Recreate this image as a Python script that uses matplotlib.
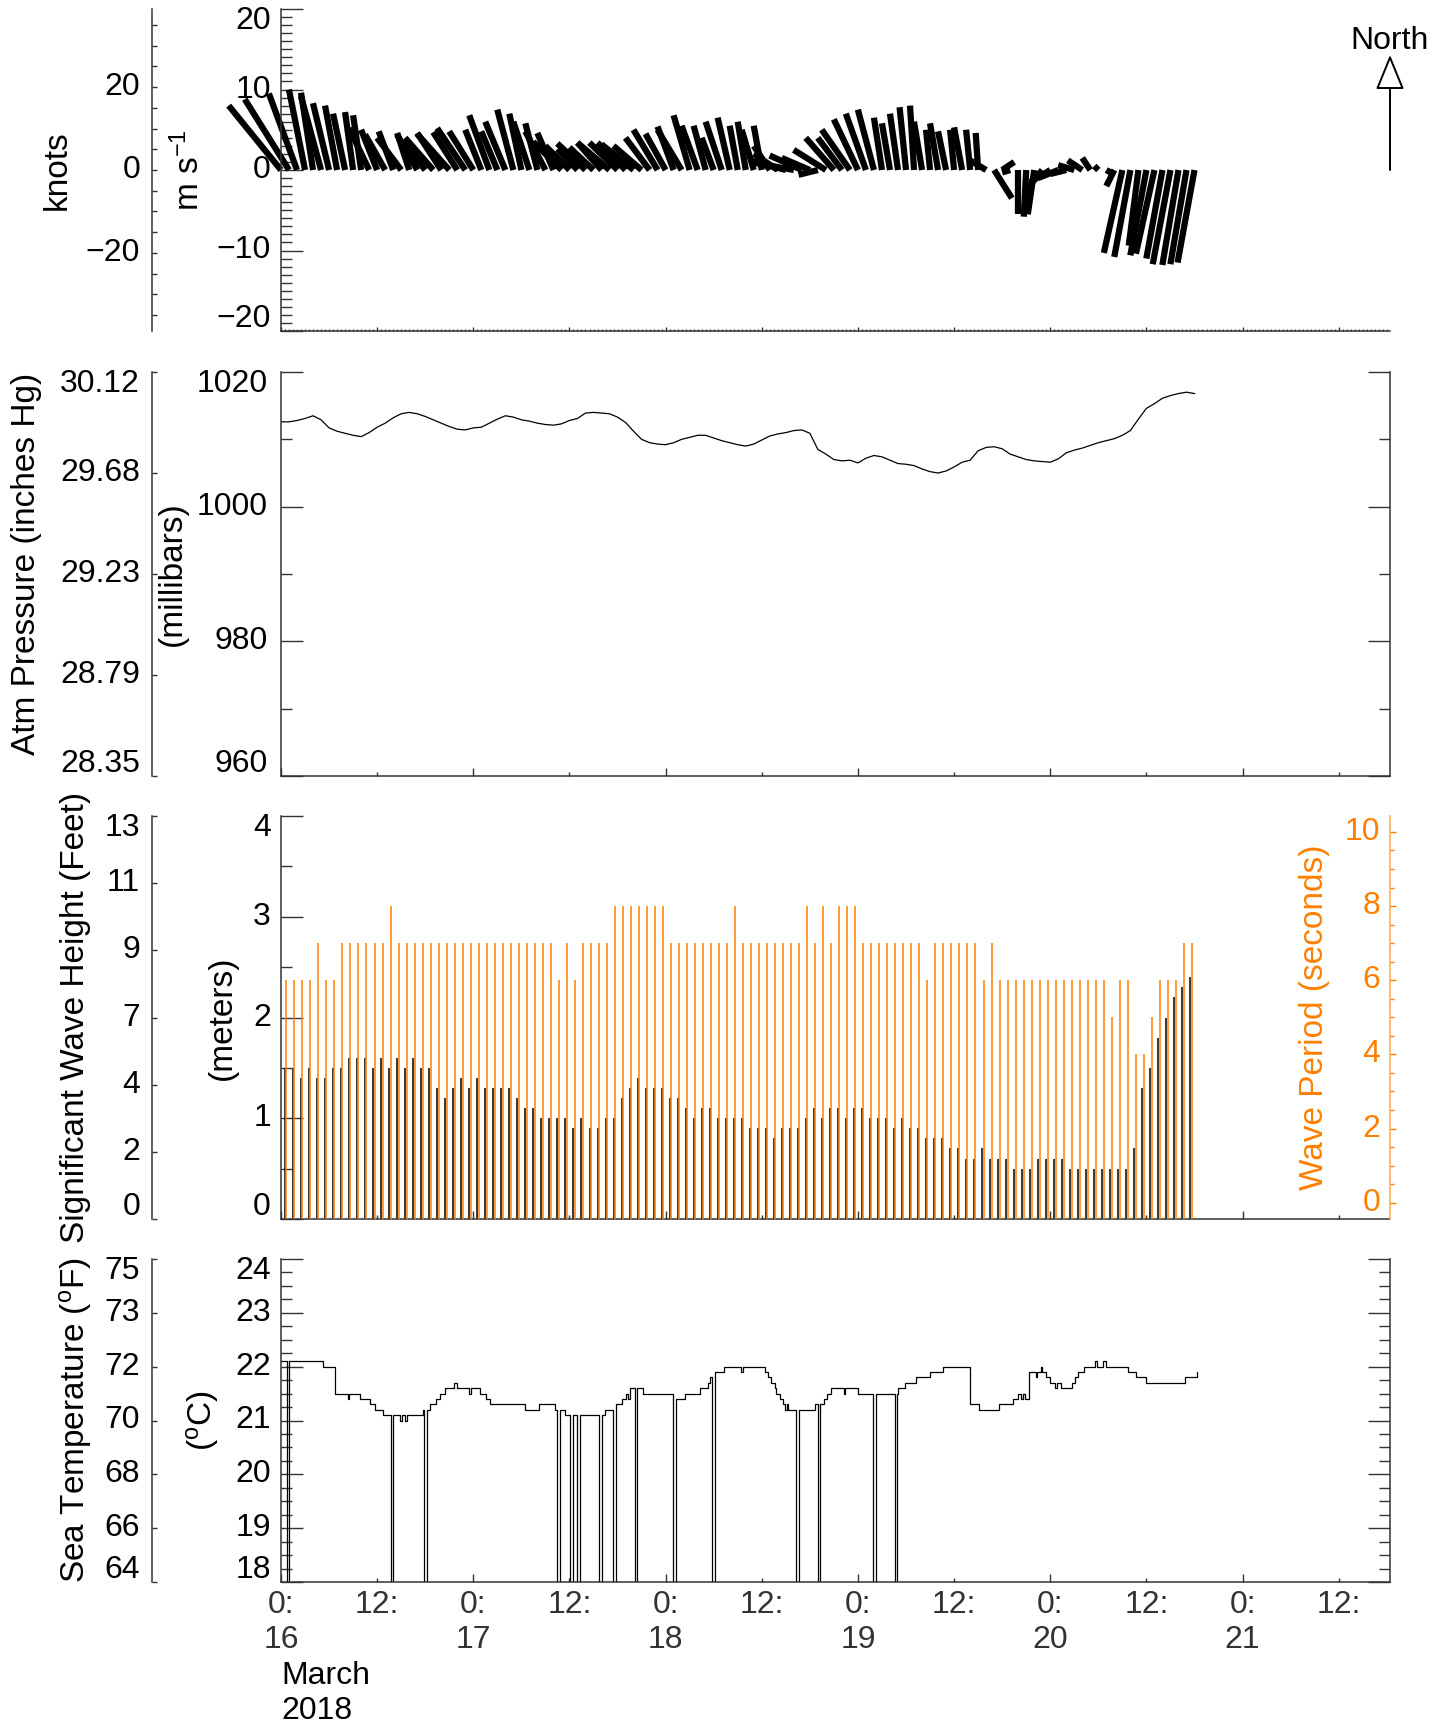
import numpy as np
import matplotlib
matplotlib.use("Agg")
import matplotlib.pyplot as plt
from matplotlib import transforms
from matplotlib.collections import LineCollection
from matplotlib.ticker import MultipleLocator, FixedLocator, FixedFormatter

plt.rcParams["font.family"] = ["Liberation Sans", "DejaVu Sans"]
plt.rcParams["mathtext.fontset"] = "custom"
plt.rcParams["mathtext.rm"] = "Liberation Sans"
plt.rcParams["mathtext.default"] = "regular"

# ---------------- data (hours since 16 March 2018 00:00) ----------------
# hourly wind components in m/s (v = north, u = east), hours 0..114
wind_v = [8.0, 8.8, 9.5, 10.0, 9.6, 9.2, 8.3, 8.0, 7.0, 7.2,
          6.8, 5.2, 5.0, 4.4, 4.8, 4.0, 4.6, 4.4, 3.6, 4.0,
          4.6, 4.5, 4.7, 5.2, 4.8, 5.0, 6.8, 4.8, 6.0, 7.5,
          7.0, 6.0, 5.8, 4.8, 4.6, 3.5, 3.0, 2.6, 3.3, 2.8,
          3.4, 3.4, 3.4, 3.4, 3.2, 3.0, 4.0, 5.0, 4.5, 5.4,
          5.0, 6.8, 5.5, 5.5, 4.0, 6.0, 6.5, 5.5, 6.0, 5.0,
          5.5, 3.0, 2.0, 1.2, 1.0, 1.8, 1.5, -0.6, 2.5, 4.0,
          4.0, 5.0, 6.3, 7.0, 7.5, 6.5, 5.8, 7.0, 7.8, 8.0,
          6.0, 5.0, 5.8, 4.8, 5.0, 5.3, 5.0, 4.6, 1.2, -3.5,
          1.0, -0.3, -5.5, -5.8, -5.5, -2.5, -1.5, -1.0, -0.5, 0.6,
          1.2, 1.5, 0.5, -0.3, -2.0, -10.3, -10.8, -9.4, -10.6, -10.4,
          -11.0, -11.7, -11.8, -11.7, -11.5]
wind_u = [-6.5, -5.5, -3.5, -2.0, -1.5, -2.5, -2.0, -1.5, -1.5, -1.0,
          -1.0, -2.5, -2.0, -2.5, -1.8, -3.0, -1.5, -2.5, -2.8, -3.5,
          -3.0, -4.0, -3.0, -3.5, -3.0, -2.0, -2.5, -2.0, -2.5, -2.0,
          -1.5, -2.0, -1.5, -2.5, -2.0, -3.5, -3.0, -2.5, -3.5, -3.0,
          -3.0, -4.0, -3.5, -3.5, -4.0, -3.5, -3.0, -3.0, -2.5, -2.0,
          -3.0, -2.0, -2.0, -1.5, -1.5, -2.0, -1.5, -1.0, -1.0, -1.5,
          -1.0, -2.0, -3.0, -4.5, -5.5, -4.0, -3.5, -2.4, -4.0, -3.5,
          -3.0, -3.5, -3.0, -2.5, -2.0, -1.0, -1.0, -1.0, -0.8, -0.5,
          -1.0, -0.5, -1.0, -1.0, -0.5, -1.0, -0.5, -0.3, -2.0, 2.2,
          1.5, -1.0, 0.0, -0.3, -0.8, -2.0, -2.5, -2.5, -2.0, -2.0,
          -1.8, -1.0, -0.5, 0.5, -1.0, -2.3, -2.0, -1.2, -2.0, -2.3,
          -2.0, -2.2, -2.0, -2.0, -2.1]

# hourly atmospheric pressure (millibars), hours 0..114
pressure_mb = [1012.6, 1012.6, 1012.8, 1013.1, 1013.5, 1012.9, 1011.7, 1011.2, 1010.9, 1010.6,
               1010.4, 1011.0, 1011.8, 1012.4, 1013.2, 1013.8, 1014.0, 1013.8, 1013.4, 1012.9,
               1012.4, 1011.9, 1011.5, 1011.4, 1011.7, 1011.8, 1012.4, 1013.0, 1013.5, 1013.3,
               1012.9, 1012.7, 1012.4, 1012.2, 1012.1, 1012.3, 1012.8, 1013.1, 1013.9, 1014.0,
               1013.9, 1013.8, 1013.3, 1012.5, 1011.2, 1010.0, 1009.5, 1009.3, 1009.2, 1009.5,
               1010.0, 1010.3, 1010.6, 1010.6, 1010.2, 1009.8, 1009.5, 1009.2, 1009.0, 1009.3,
               1009.9, 1010.5, 1010.8, 1011.0, 1011.3, 1011.4, 1010.9, 1008.5, 1007.8, 1007.0,
               1006.8, 1006.9, 1006.5, 1007.2, 1007.6, 1007.4, 1006.9, 1006.4, 1006.3, 1006.1,
               1005.6, 1005.2, 1005.0, 1005.3, 1005.9, 1006.6, 1006.9, 1008.3, 1008.8, 1008.9,
               1008.6, 1007.8, 1007.4, 1007.0, 1006.8, 1006.7, 1006.6, 1007.1, 1008.0, 1008.4,
               1008.7, 1009.1, 1009.5, 1009.8, 1010.1, 1010.6, 1011.3, 1013.0, 1014.6, 1015.3,
               1016.1, 1016.5, 1016.8, 1017.0, 1016.8]

# hourly waves: significant height (m) and period (s)
wave_height_m = [1.5, 1.5, 1.4, 1.5, 1.4, 1.4, 1.5, 1.5, 1.6, 1.6,
                 1.6, 1.5, 1.6, 1.5, 1.6, 1.5, 1.6, 1.5, 1.5, 1.3,
                 1.2, 1.3, 1.4, 1.3, 1.4, 1.3, 1.3, 1.3, 1.3, 1.2,
                 1.1, 1.1, 1.0, 1.0, 1.0, 1.0, 0.9, 1.0, 0.9, 0.9,
                 1.0, 1.0, 1.2, 1.3, 1.4, 1.3, 1.3, 1.3, 1.2, 1.2,
                 1.1, 1.0, 1.1, 1.1, 1.0, 1.0, 1.0, 1.0, 0.9, 0.9,
                 0.9, 0.8, 0.9, 0.9, 0.9, 1.0, 1.1, 1.0, 1.1, 1.1,
                 1.0, 1.1, 1.1, 1.0, 1.0, 1.0, 0.9, 1.0, 0.9, 0.9,
                 0.8, 0.8, 0.8, 0.7, 0.7, 0.6, 0.6, 0.7, 0.6, 0.6,
                 0.6, 0.5, 0.5, 0.5, 0.6, 0.6, 0.6, 0.6, 0.5, 0.5,
                 0.5, 0.5, 0.5, 0.5, 0.5, 0.5, 0.7, 1.3, 1.5, 1.8,
                 2.0, 2.2, 2.3, 2.4]
wave_period_s = [6, 6, 6, 6, 7, 6, 6, 7, 7, 7,
                 7, 7, 7, 8, 7, 7, 7, 7, 7, 7,
                 7, 7, 7, 7, 7, 7, 7, 7, 7, 7,
                 7, 7, 7, 7, 6, 7, 6, 7, 7, 7,
                 7, 8, 8, 8, 8, 8, 8, 8, 7, 7,
                 7, 7, 7, 7, 7, 7, 8, 7, 7, 7,
                 7, 7, 7, 7, 7, 8, 7, 8, 7, 8,
                 8, 8, 7, 7, 7, 7, 7, 7, 7, 7,
                 6, 7, 7, 7, 7, 7, 7, 6, 7, 6,
                 6, 6, 6, 6, 6, 6, 6, 6, 6, 6,
                 6, 6, 6, 5, 6, 6, 4, 4, 5, 6,
                 6, 6, 7, 7]

# sea temperature (deg C) at each change of value; 0 marks a sensor dropout
temp_hours = [0.0, 0.75, 1.05, 5.2, 6.7, 8.3, 8.5, 9.8, 11.1, 11.7,
              12.7, 13.7, 14.0, 14.8, 15.1, 15.5, 15.7, 17.7, 17.85, 18.2,
              18.6, 19.3, 19.9, 20.5, 21.6, 22.0, 23.4, 23.7, 24.8, 25.6,
              26.1, 30.5, 32.2, 34.2, 34.5, 34.8, 35.5, 36.1, 36.4, 37.0,
              37.3, 39.7, 40.0, 40.4, 41.4, 41.8, 42.6, 43.0, 43.3, 43.5,
              44.2, 44.4, 45.2, 48.9, 49.3, 50.4, 52.3, 53.3, 53.6, 53.8,
              54.1, 55.3, 57.4, 57.6, 60.4, 60.8, 61.2, 61.6, 61.8, 62.3,
              62.6, 62.9, 63.1, 63.3, 64.3, 64.7, 66.6, 67.0, 67.3, 67.8,
              68.2, 68.7, 70.2, 70.4, 72.0, 73.9, 74.2, 76.6, 76.9, 77.0,
              77.9, 79.2, 81.0, 82.6, 86.0, 87.1, 89.6, 91.4, 92.0, 92.3,
              92.6, 92.9, 93.3, 94.2, 94.4, 94.8, 95.0, 95.5, 96.0, 96.6,
              96.8, 97.4, 98.7, 99.1, 99.5, 100.2, 101.6, 101.8, 102.6, 103.0,
              105.7, 106.7, 108.0, 112.8, 114.3]
temp_c = [22.1, 0, 22.1, 22.0, 21.5, 21.4, 21.5, 21.4, 21.3, 21.2,
          21.1, 0, 21.1, 21.0, 21.1, 21.0, 21.1, 21.2, 0, 21.2,
          21.3, 21.4, 21.5, 21.6, 21.7, 21.6, 21.5, 21.6, 21.5, 21.4,
          21.3, 21.2, 21.3, 21.2, 0, 21.2, 21.1, 0, 21.1, 0,
          21.1, 0, 21.1, 21.2, 0, 21.3, 21.4, 21.5, 21.4, 21.6,
          0, 21.6, 21.5, 0, 21.4, 21.5, 21.6, 21.7, 21.8, 0,
          21.9, 22.0, 21.9, 22.0, 21.9, 21.8, 21.7, 21.6, 21.5, 21.4,
          21.3, 21.2, 21.3, 21.2, 0, 21.2, 21.3, 0, 21.3, 21.4,
          21.5, 21.6, 21.5, 21.6, 21.5, 0, 21.5, 0, 21.5, 21.6,
          21.7, 21.8, 21.9, 22.0, 21.3, 21.2, 21.3, 21.4, 21.5, 21.4,
          21.5, 21.4, 21.9, 21.8, 21.9, 22.0, 21.9, 21.8, 21.7, 21.6,
          21.7, 21.6, 21.7, 21.8, 21.9, 22.0, 22.1, 22.0, 22.1, 22.0,
          21.9, 21.8, 21.7, 21.8, 21.9]

# tick labels
day_ticks = [0, 24, 48, 72, 96, 120]
half_day_ticks = [12, 36, 60, 84, 108, 132]
day_labels = ["0:\n16", "0:\n17", "0:\n18", "0:\n19", "0:\n20", "0:\n21"]
half_day_labels = ["12:"] * 6
knots_labels = ["\u221220", "0", "20"]
inhg_labels = ["28.35", "28.79", "29.23", "29.68", "30.12"]
feet_labels = ["0", "2", "4", "7", "9", "11", "13"]
degf_labels = ["64", "66", "68", "70", "72", "73", "75"]

# ---------------- layout ----------------
W, H = 1445, 1723
XMAX = 138.4
INK = "#333333"
ORANGE = "#ff8000"
FS = 23      # tick labels
LFS = 24     # axis titles
KNOT = 1.94384

fig = plt.figure(figsize=(W / 100, H / 100), dpi=100)


def rect(top, bottom, left=281, right=1390):
    return [left / W, 1 - bottom / H, (right - left) / W, (bottom - top) / H]


def main_axes(top, bottom, right_spine=True):
    ax = fig.add_axes(rect(top, bottom))
    ax.set_xlim(0, XMAX)
    ax.spines["top"].set_visible(False)
    ax.spines["right"].set_visible(right_spine)
    for s in ax.spines.values():
        s.set_color(INK)
        s.set_linewidth(1.1)
    ax.tick_params(which="both", direction="in", colors=INK, width=1.0,
                   labelleft=False, labelbottom=False, right=right_spine, top=False)
    ax.tick_params(axis="y", which="major", length=15.8)
    ax.tick_params(axis="y", which="minor", length=7.9)
    ax.xaxis.set_major_locator(FixedLocator(day_ticks))
    ax.xaxis.set_minor_locator(FixedLocator(half_day_ticks))
    ax.tick_params(axis="x", which="major", length=5.8)
    ax.tick_params(axis="x", which="minor", length=2.9)
    return ax


def side_axes(top, bottom, ylim, ticks):
    # extra unit axis drawn to the left of a panel
    ax = fig.add_axes(rect(top, bottom, 152, 153))
    ax.patch.set_visible(False)
    for k in ["top", "right", "bottom"]:
        ax.spines[k].set_visible(False)
    ax.spines["left"].set_color(INK)
    ax.spines["left"].set_linewidth(1.1)
    ax.set_ylim(*ylim)
    ax.set_xticks([])
    ax.yaxis.set_major_locator(FixedLocator(ticks))
    ax.tick_params(axis="y", direction="in", length=3.6, width=1.0,
                   colors=INK, labelleft=False)
    return ax


def ylabels(ax, values, labels, xa=0.0, dx=-10, color="black", ends=True):
    # tick labels; the ones at the ends of the axis are pulled inward
    lo, hi = ax.get_ylim()
    base = transforms.blended_transform_factory(ax.transAxes, ax.transData)
    for v, s in zip(values, labels):
        dy = 0
        if ends and np.isclose(v, hi):
            dy = -12
        elif ends and np.isclose(v, lo):
            dy = 12
        tr = transforms.offset_copy(base, fig=fig, x=dx, y=dy, units="dots")
        ax.text(xa, v, s, transform=tr, ha="right", va="center",
                fontsize=FS, color=color, clip_on=False)


def vlabel(x, top, bottom, text, color="black"):
    fig.text(x / W, 1 - (top + bottom) / 2 / H, text, rotation=90,
             ha="center", va="center", fontsize=LFS, color=color)


# ---------------- panel 1: wind sticks ----------------
ax1 = main_axes(9, 331, right_spine=False)
ax1.set_ylim(-20, 20)
ax1.yaxis.set_major_locator(MultipleLocator(10))
ax1.yaxis.set_minor_locator(MultipleLocator(1))
ax1.xaxis.set_major_locator(MultipleLocator(12))
ax1.xaxis.set_minor_locator(MultipleLocator(0.5))
ax1.tick_params(axis="x", which="major", length=3.2)
ax1.tick_params(axis="x", which="minor", length=1.6)

wind_hours = np.arange(len(wind_v))
# east component drawn with the same pixel scale as the north component
k = (ax1.bbox.height / 40.0) / (ax1.bbox.width / XMAX)
segs = [[(t, 0), (t + u * k, v)] for t, u, v in zip(wind_hours, wind_u, wind_v)]
ax1.add_collection(LineCollection(segs, colors="black", linewidths=4.5,
                                  capstyle="butt", clip_on=False))

ax1.annotate("", xy=(XMAX, 14.3), xytext=(XMAX, 0), annotation_clip=False,
             arrowprops=dict(arrowstyle="-|>,head_length=1.1,head_width=0.45",
                             fc="white", ec="black", lw=1.4,
                             shrinkA=0, shrinkB=0, mutation_scale=20))
ax1.text(XMAX, 16.0, "North", ha="center", va="center", fontsize=FS)

ylabels(ax1, [-20, -10, 0, 10, 20], ["\u221220", "\u221210", "0", "10", "20"])
ak = side_axes(9, 331, (-20, 20), np.arange(-35, 40, 5) / KNOT)
ylabels(ak, np.array([-20, 0, 20]) / KNOT, knots_labels, dx=-12)
vlabel(57, 9, 331, "knots")
vlabel(189, 9, 331, "m s$^{-1}$")

# ---------------- panel 2: pressure ----------------
ax2 = main_axes(372, 776)
ax2.set_ylim(960, 1020)
ax2.yaxis.set_major_locator(FixedLocator([960, 980, 1000, 1020]))
ax2.yaxis.set_minor_locator(FixedLocator([970, 990, 1010]))
ax2.plot(np.arange(len(pressure_mb)), pressure_mb, color="black", lw=0.9)
ylabels(ax2, [960, 980, 1000, 1020], ["960", "980", "1000", "1020"], dx=-13)
ap = side_axes(372, 776, (960, 1020), [960, 975, 990, 1005, 1020])
ylabels(ap, [960, 975, 990, 1005, 1020], inhg_labels, dx=-12)
vlabel(27, 362, 766, "Atm Pressure (inches Hg)")
vlabel(172, 372, 776, "(millibars)")

# ---------------- panel 3: waves ----------------
ax3 = main_axes(816, 1219, right_spine=False)
ax3.set_ylim(0, 4)
ax3.yaxis.set_major_locator(MultipleLocator(1))
ax3.yaxis.set_minor_locator(MultipleLocator(0.5))
n = len(wave_height_m)
ax3.vlines(np.arange(n) + 0.5, 0, wave_height_m, color="black", lw=1.1)

ax3p = ax3.twinx()
ax3p.set_ylim(-0.44, 10.43)
for s in ["left", "top", "bottom"]:
    ax3p.spines[s].set_visible(False)
ax3p.spines["right"].set_color("#ffa64d")
ax3p.spines["right"].set_linewidth(1.1)
ax3p.yaxis.set_major_locator(MultipleLocator(2))
ax3p.yaxis.set_minor_locator(MultipleLocator(0.5))
ax3p.tick_params(axis="y", which="both", direction="out", colors=ORANGE,
                 width=1.0, labelright=False)
ax3p.tick_params(axis="y", which="major", length=4.1)
ax3p.tick_params(axis="y", which="minor", length=2.9)
ax3p.vlines(np.arange(n) + 0.67, -0.44, wave_period_s, color=ORANGE, lw=1.1)

ylabels(ax3, [0, 1, 2, 3, 4], ["0", "1", "2", "3", "4"])
ylabels(ax3p, [0, 2, 4, 6, 8, 10], ["0", "2", "4", "6", "8", "10"],
        xa=1.0, dx=-10, color=ORANGE, ends=False)
af = side_axes(816, 1219, (0, 4), np.linspace(0, 4, 7))
ylabels(af, np.linspace(0, 4, 7), feet_labels, dx=-12)
vlabel(76, 816, 1219, "Significant Wave Height (Feet)")
vlabel(222, 816, 1219, "(meters)")
vlabel(1314, 816, 1219, "Wave Period (seconds)", color=ORANGE)

# ---------------- panel 4: sea temperature ----------------
ax4 = main_axes(1259, 1582)
ax4.set_ylim(18, 24)
ax4.yaxis.set_major_locator(MultipleLocator(1))
ax4.yaxis.set_minor_locator(MultipleLocator(0.25))
ax4.plot(temp_hours, temp_c, drawstyle="steps-post", color="black", lw=0.9)
ylabels(ax4, range(18, 25), [str(v) for v in range(18, 25)])
at = side_axes(1259, 1582, (18, 24), list(range(18, 25)))
ylabels(at, range(18, 25), degf_labels, dx=-12)
vlabel(76, 1259, 1582, "Sea Temperature ($^o$F)")
vlabel(203, 1259, 1582, "($^o$C)")

ax4.xaxis.set_major_formatter(FixedFormatter(day_labels))
ax4.xaxis.set_minor_formatter(FixedFormatter(half_day_labels))
ax4.tick_params(axis="x", which="both", labelbottom=True, labelsize=FS, pad=6)
fig.text(281 / W, 1 - 1661 / H, "March\n2018", ha="left", va="top", fontsize=FS)

fig.savefig("out.png", dpi=100)
